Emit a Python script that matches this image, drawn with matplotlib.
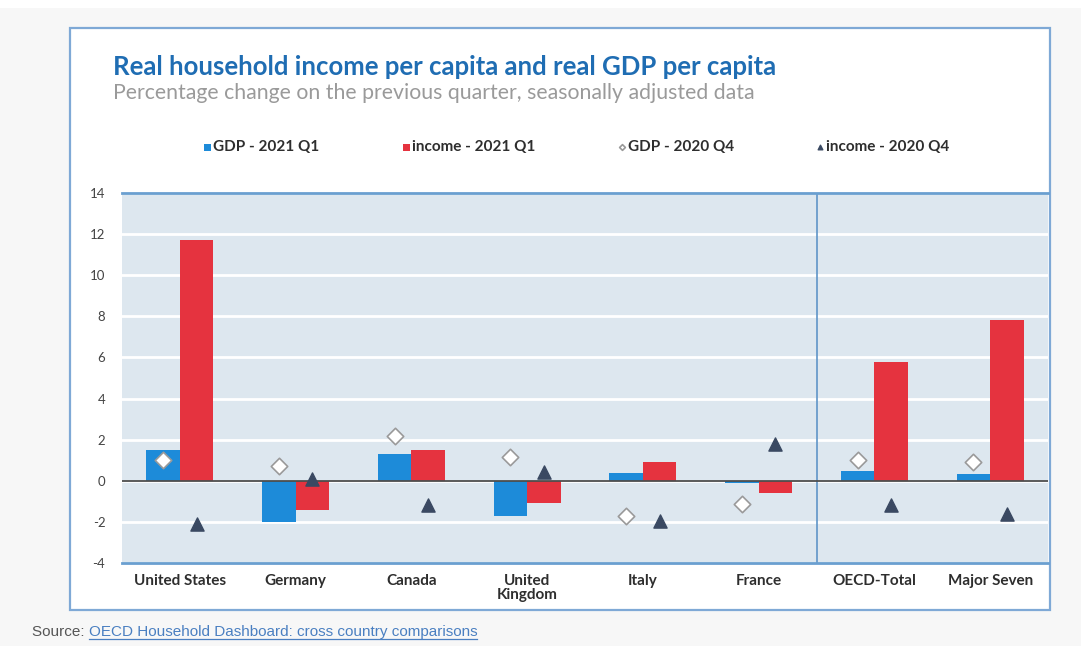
import matplotlib
matplotlib.use("Agg")
import matplotlib.pyplot as plt
import numpy as np
from matplotlib.patches import Rectangle

categories = ["United States", "Germany", "Canada", "United\nKingdom", "Italy",
              "France", "OECD-Total", "Major Seven"]
gdp_2021q1 = [1.5, -2.0, 1.3, -1.7, 0.4, -0.1, 0.5, 0.35]
income_2021q1 = [11.7, -1.4, 1.5, -1.1, 0.9, -0.6, 5.8, 7.8]
gdp_2020q4 = [1.0, 0.7, 2.2, 1.15, -1.7, -1.15, 1.0, 0.9]
income_2020q4 = [-2.1, 0.1, -1.2, 0.45, -1.95, 1.8, -1.2, -1.6]
yticks = [-4, -2, 0, 2, 4, 6, 8, 10, 12, 14]

FONT = "Lato"
BLUE = "#1d8bd9"
RED = "#e5333f"
TRI = "#3a4962"
FRAME = "#7fa9d6"

fig = plt.figure(figsize=(10.81, 6.46), dpi=100)
fig.patch.set_facecolor("#f7f7f7")
W, H = 1081, 646

# white strip at top and white frame box
fig.add_artist(Rectangle((0, 1 - 8 / H), 1, 8 / H, transform=fig.transFigure,
                         facecolor="white", edgecolor="none", zorder=0))
fig.add_artist(Rectangle((70 / W, 1 - 610 / H), (1050 - 70) / W, (610 - 28) / H,
                         transform=fig.transFigure, facecolor="white",
                         edgecolor=FRAME, linewidth=1.6, zorder=0))

ax = fig.add_axes([122 / W, 1 - 563 / H, (1048 - 122) / W, (563 - 193) / H])
ax.set_facecolor("#dde7ef")
x = np.arange(len(categories))
bw = 0.29
b1 = ax.bar(x - bw / 2, gdp_2021q1, bw, color=BLUE, zorder=3, label="GDP - 2021 Q1")
b2 = ax.bar(x + bw / 2, income_2021q1, bw, color=RED, zorder=3, label="income - 2021 Q1")
s1 = ax.scatter(x - bw / 2, gdp_2020q4, marker="D", s=70, facecolor="white",
                edgecolor="#9a9a9a", linewidth=1.2, zorder=5, label="GDP - 2020 Q4")
s2 = ax.scatter(x + bw / 2, income_2020q4, marker="^", s=90, color=TRI,
                zorder=5, label="income - 2020 Q4")

ax.set_xlim(-0.5, len(categories) - 0.5)
ax.set_ylim(-4, 14)
ax.set_yticks(yticks)
ax.set_yticklabels([str(v) for v in yticks], fontsize=9.5, color="#444444",
                   family=FONT)
ax.yaxis.grid(True, color="white", linewidth=2, zorder=1)
ax.set_axisbelow(True)
ax.axhline(0, color="#4d4d4d", linewidth=1.3, zorder=4)
ax.axvline(5.5, color="#5f95c8", linewidth=1.2, zorder=2)
ax.tick_params(axis="both", length=0)
ax.tick_params(axis="y", pad=12)
ax.set_xticks(x)
ax.set_xticklabels(categories, fontsize=11, fontweight="bold", color="#2e2e2e",
                   family=FONT, linespacing=1.0)
ax.tick_params(axis="x", pad=8)
for side in ["left", "right"]:
    ax.spines[side].set_visible(False)
for side in ["top", "bottom"]:
    ax.spines[side].set_color("#6a9fd0")
    ax.spines[side].set_linewidth(2)

fig.text(113 / W, 1 - 67 / H, "Real household income per capita and real GDP per capita",
         fontsize=18.5, fontweight="bold", color="#1f6db3", family=FONT, va="center")
fig.text(113 / W, 1 - 93 / H,
         "Percentage change on the previous quarter, seasonally adjusted data",
         fontsize=15.3, color="#9a9a9a", family=FONT, va="center")

leg = fig.legend(handles=[b1, b2, s1, s2], loc="center left",
                 bbox_to_anchor=(204 / W, 1 - 147 / H), ncol=4, frameon=False,
                 prop={"family": FONT, "weight": "bold", "size": 11},
                 handlelength=0.45, handletextpad=0.15, columnspacing=5.45,
                 markerscale=0.35, borderaxespad=0, borderpad=0)
for t in leg.get_texts():
    t.set_color("#2e2e2e")
for h in leg.legend_handles[:2]:
    h.set_height(5)
    h.set_width(5)

st = fig.text(32 / W, 1 - 632 / H, "Source: ", fontsize=11, color="#555555",
              family="Liberation Sans", va="center")
fig.canvas.draw()
bb = st.get_window_extent()
lk = fig.text(bb.x1 / W, 1 - 632 / H,
              "OECD Household Dashboard: cross country comparisons",
              fontsize=11, color="#4a7fc1", family="Liberation Sans", va="center")
fig.canvas.draw()
lb = lk.get_window_extent()
fig.add_artist(plt.Line2D([lb.x0 / W, lb.x1 / W], [1 - 639 / H, 1 - 639 / H],
                          transform=fig.transFigure, color="#4a7fc1", linewidth=0.9))

fig.savefig("out.png", dpi=100, facecolor=fig.get_facecolor())
